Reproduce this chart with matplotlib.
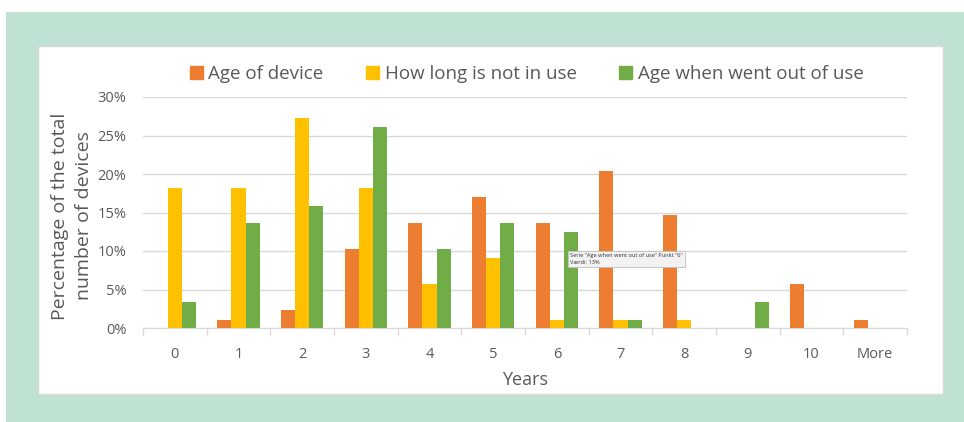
import matplotlib.pyplot as plt
import matplotlib.patches as mpatches
import numpy as np

plt.rcParams['font.family'] = ['Open Sans', 'DejaVu Sans']

categories = ['0', '1', '2', '3', '4', '5', '6', '7', '8', '9', '10', 'More']
age_of_device = [0, 1.1, 2.3, 10.2, 13.6, 17.0, 13.6, 20.4, 14.7, 0, 5.7, 1.1]
not_in_use = [18.2, 18.2, 27.3, 18.2, 5.7, 9.1, 1.1, 1.1, 1.1, 0, 0, 0]
age_out_of_use = [3.4, 13.6, 15.9, 26.1, 10.2, 13.6, 12.5, 1.1, 0, 3.4, 0, 0]

series = [
    ('Age of device', age_of_device, '#ED7D31'),
    ('How long is not in use', not_in_use, '#FFC000'),
    ('Age when went out of use', age_out_of_use, '#70AD47'),
]

W, H = 964, 422
fig = plt.figure(figsize=(W / 100, H / 100), dpi=100)

# mint frame and white chart panel
fig.patches.append(mpatches.Rectangle((6 / W, 0), 1 - 6 / W, 1 - 12 / H,
                                      transform=fig.transFigure,
                                      facecolor='#bfe2d2', edgecolor='none', zorder=-2))
fig.patches.append(mpatches.Rectangle((38 / W, 1 - 394 / H), (943 - 38) / W, (394 - 46) / H,
                                      transform=fig.transFigure,
                                      facecolor='white', edgecolor='#d9d9d9', lw=1, zorder=-1))

ax = fig.add_axes([143 / W, 1 - 328 / H, (907 - 143) / W, (328 - 97) / H])
ax.patch.set_alpha(0)

x = np.arange(len(categories))
bw = 0.22
for i, (name, vals, col) in enumerate(series):
    ax.bar(x + (i - 1) * bw, np.array(vals) / 100, bw, color=col, label=name, zorder=3)

ax.set_xlim(-0.5, len(categories) - 0.5)
ax.set_ylim(0, 0.30)
ax.set_yticks(np.arange(0, 0.31, 0.05))
ax.set_yticklabels(['{}%'.format(int(round(v * 100))) for v in np.arange(0, 0.31, 0.05)])
ax.yaxis.grid(True, color='#d9d9d9', lw=1, zorder=0)

ax.set_xticks(x)
ax.set_xticklabels(categories)
ax.set_xticks(np.arange(-0.5, len(categories)), minor=True)
ax.tick_params(axis='x', which='major', length=0, pad=14, labelsize=10.5, labelcolor='#595959')
ax.tick_params(axis='x', which='minor', length=5, color='#d9d9d9', width=1)
ax.tick_params(axis='y', length=0, pad=12, labelsize=10.5, labelcolor='#595959')

for s in ['top', 'right', 'left']:
    ax.spines[s].set_visible(False)
ax.spines['bottom'].set_color('#d9d9d9')

ax.set_xlabel('Years', fontsize=13, color='#595959', labelpad=6)
fig.text(72 / W, 1 - 216 / H, 'Percentage of the total\nnumber of devices', rotation=90,
         ha='center', va='center', fontsize=14, color='#595959', linespacing=1.4)

handles = [mpatches.Patch(color=c) for _, _, c in series]
fig.legend(handles, [n for n, _, _ in series], loc='center', ncol=3,
           bbox_to_anchor=((188 + 865) / 2 / W, 1 - 74 / H), frameon=False,
           fontsize=13.5, labelcolor='#595959', handlelength=0.7, handleheight=0.7,
           handletextpad=0.3, columnspacing=2.25)

# hover tooltip captured in the screenshot
fig.text(570 / W, 1 - 259 / H, 'Serie "Age when went out of use" Punkt "6"\nVærdi: 13%',
         fontsize=4.1, color='#333333', va='center', ha='left', linespacing=1.3,
         bbox=dict(boxstyle='square,pad=0.4', facecolor='#f2f2f2', edgecolor='#bfbfbf', lw=0.6),
         zorder=5)

fig.savefig('out.png', dpi=100)
